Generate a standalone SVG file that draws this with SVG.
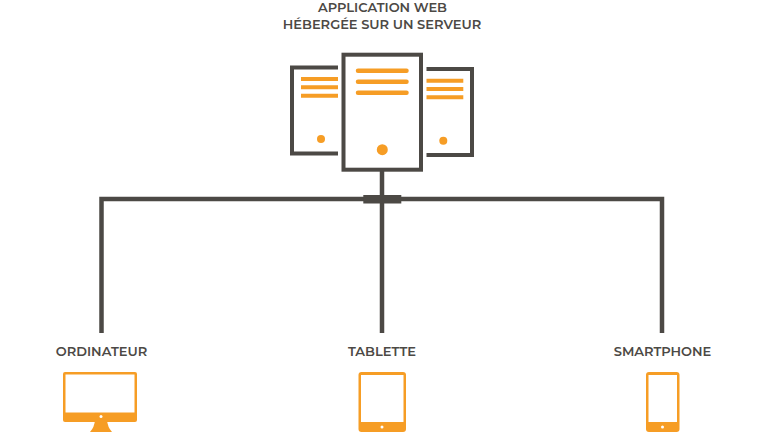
<svg xmlns="http://www.w3.org/2000/svg" width="768" height="432" viewBox="0 0 768 432">
<style>
.t{font-family:"Montserrat","Lato","Liberation Sans",sans-serif;font-size:13px;font-weight:600;fill:#4c4945;text-anchor:middle}
.f{fill:none;stroke:#4c4945;stroke-width:4.500}
.s{fill:none;stroke:#4c4945;stroke-width:4}
.o{fill:#f69d25}
.w{fill:#fff}
.b{stroke:#f69d25;fill:none;stroke-linecap:round}
.c{stroke:#f69d25;fill:none;stroke-width:4}
</style>
<rect width="768" height="432" fill="#fff"/>
<g id="connectors">
<path class="f" d="M101.500 333V199H662V333"/>
<path class="f" d="M382 171V333"/>
<rect x="363.300" y="195" width="38" height="8.500" fill="#4c4945"/>
</g>
<g id="server">
<text class="t" x="382.500" y="12">APPLICATION WEB</text>
<text class="t" x="382" y="29">HÉBERGÉE SUR UN SERVEUR</text>
<path class="s" d="M338 67.500H292V153.500H338"/>
<path class="s" d="M426.500 69H472V155H426.500"/>
<rect class="s" x="343.500" y="54.700" width="77.500" height="115"/>
<path class="b" stroke-width="4.500" d="M358 70.700H406.500M358 81.700H406.500M358 92.700H406.500"/>
<path class="c" d="M301 79H338M301 87.300H338M301 95.700H338"/>
<path class="c" d="M426.500 80.700H463.300M426.500 89H463.300M426.500 97.300H463.300"/>
<circle class="o" cx="321" cy="139" r="4"/>
<circle class="o" cx="443.300" cy="140.700" r="4"/>
<circle class="o" cx="382.300" cy="149.700" r="5.500"/>
</g>
<g id="ordinateur">
<text class="t" x="101.500" y="356">ORDINATEUR</text>
<rect class="o" x="63" y="372" width="74" height="50" rx="2"/>
<rect class="w" x="65.500" y="374.500" width="69" height="38"/>
<path class="o" d="M95 420H107Q107.500 427 112 432H90Q94.500 427 95 420Z"/>
<circle class="w" cx="101" cy="416.500" r="1.500"/>
</g>
<g id="tablette">
<text class="t" x="382" y="356">TABLETTE</text>
<rect class="o" x="358.500" y="372" width="47.500" height="60" rx="3"/>
<rect class="w" x="361" y="375" width="42.500" height="47"/>
<circle class="w" cx="382" cy="427" r="1.500"/>
</g>
<g id="smartphone">
<text class="t" x="662.500" y="356">SMARTPHONE</text>
<rect class="o" x="646" y="372" width="33.500" height="60" rx="3"/>
<rect class="w" x="648.500" y="375" width="28.500" height="47"/>
<circle class="w" cx="662.500" cy="427" r="1.500"/>
</g>
</svg>
